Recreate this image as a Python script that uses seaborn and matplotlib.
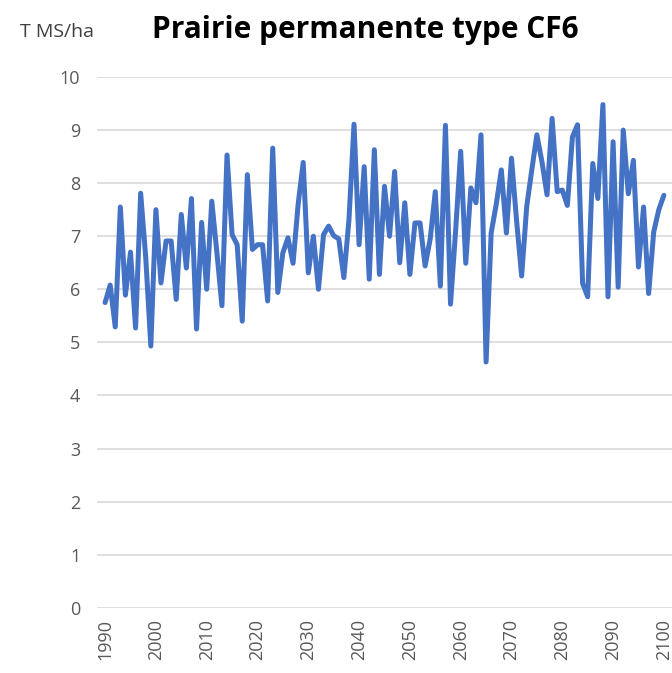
import numpy as np
import pandas as pd
import matplotlib
matplotlib.use("Agg")
import matplotlib.pyplot as plt
import seaborn as sns

# DATA ----------------------
years = list(range(1990, 2101))

# rendement annuel (T MS/ha)
yield_1990s = [5.75, 6.08, 5.29, 7.55, 5.89, 6.70, 5.27, 7.81, 6.60, 4.93]
yield_2000s = [7.50, 6.12, 6.91, 6.91, 5.81, 7.41, 6.40, 7.71, 5.25, 7.26]
yield_2010s = [6.00, 7.66, 6.70, 5.69, 8.53, 7.03, 6.84, 5.40, 8.16, 6.75]
yield_2020s = [6.84, 6.84, 5.78, 8.66, 5.94, 6.69, 6.97, 6.49, 7.60, 8.39]
yield_2030s = [6.31, 7.00, 6.00, 7.03, 7.19, 7.01, 6.95, 6.22, 7.30, 9.11]
yield_2040s = [6.84, 8.31, 6.19, 8.63, 6.28, 7.94, 7.00, 8.22, 6.50, 7.63]
yield_2050s = [6.28, 7.25, 7.25, 6.44, 6.95, 7.84, 6.06, 9.09, 5.72, 7.10]
yield_2060s = [8.60, 6.49, 7.91, 7.63, 8.91, 4.63, 7.06, 7.60, 8.25, 7.06]
yield_2070s = [8.47, 7.30, 6.25, 7.56, 8.25, 8.91, 8.40, 7.78, 9.22, 7.84]
yield_2080s = [7.87, 7.58, 8.87, 9.10, 6.11, 5.86, 8.37, 7.71, 9.48, 5.86]
yield_2090s = [8.78, 6.04, 9.00, 7.80, 8.43, 6.42, 7.55, 5.92, 7.08, 7.50]
yield_2100 = [7.77]

values = (yield_1990s + yield_2000s + yield_2010s + yield_2020s + yield_2030s
          + yield_2040s + yield_2050s + yield_2060s + yield_2070s + yield_2080s
          + yield_2090s + yield_2100)

x_ticks = list(range(1990, 2101, 10))
y_ticks = list(range(0, 11))

df = pd.DataFrame({"annee": years, "rendement": values})

# PLOT ----------------------
sns.set_style("white")
plt.rcParams["font.family"] = ["Open Sans", "DejaVu Sans"]

fig = plt.figure(figsize=(6.72, 6.73), dpi=100)
ax = fig.add_axes([0.1443, 0.097, 0.8557, 0.7886])

sns.lineplot(data=df, x="annee", y="rendement", ax=ax,
             color="#4472C4", linewidth=3.6, solid_joinstyle="round")

ax.set_xlim(1988.4, 2101.6)
ax.set_ylim(0, 10)
ax.set_xticks(x_ticks)
ax.set_yticks(y_ticks)
ax.set_xticklabels([str(t) for t in x_ticks], rotation=90)
ax.tick_params(axis="both", length=0, labelsize=13, labelcolor="#595959")
ax.tick_params(axis="y", pad=12)
ax.tick_params(axis="x", pad=8)
ax.grid(axis="y", color="#D9D9D9", linewidth=1.2)
ax.set_axisbelow(True)
for s in ax.spines.values():
    s.set_visible(False)
ax.set_xlabel("")
ax.set_ylabel("")

fig.text(0.03, 0.952, "T MS/ha", fontsize=14, color="#404040", va="center")
fig.text(0.543, 0.956, "Prairie permanente type CF6", fontsize=21.5,
         fontweight="bold", color="black", ha="center", va="center")

fig.savefig("out.png", dpi=100)
